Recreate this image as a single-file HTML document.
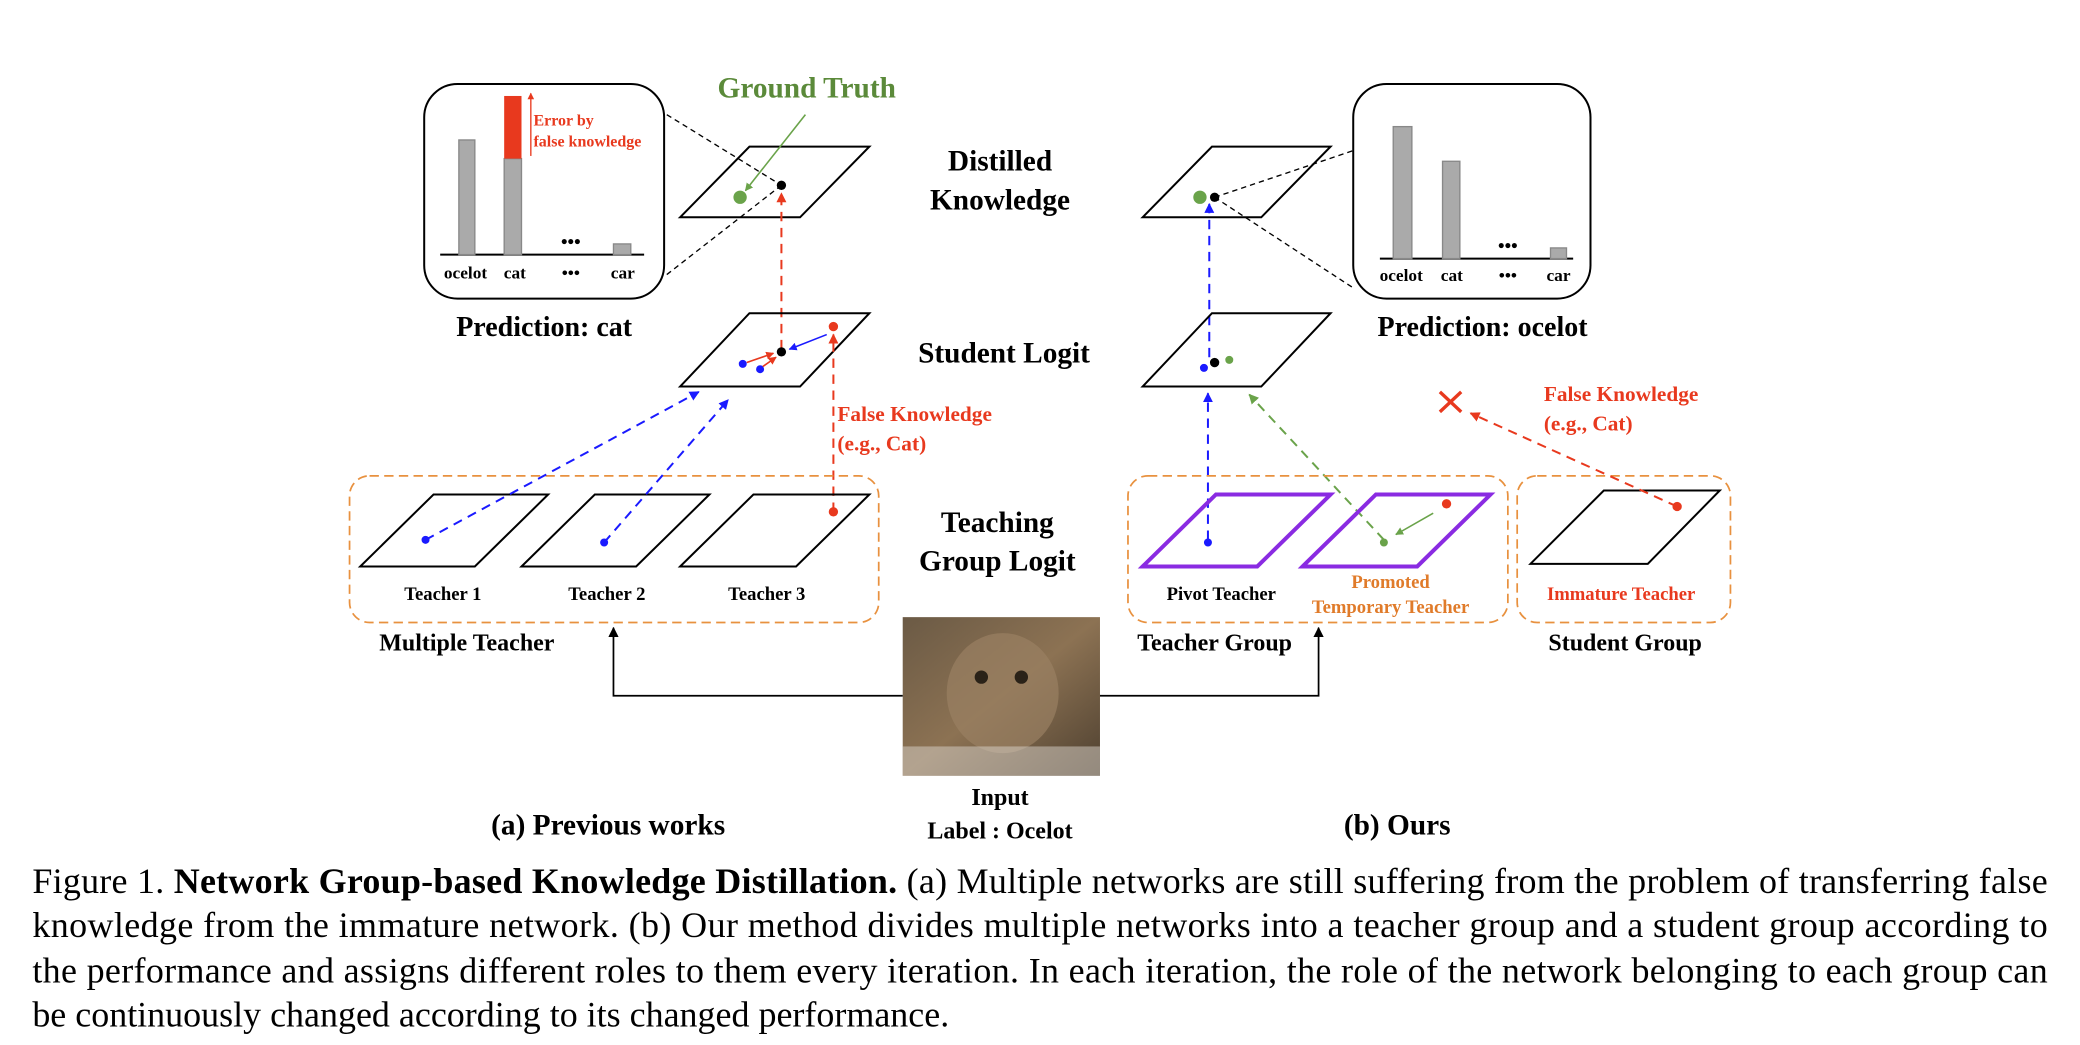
<!DOCTYPE html>
<html><head><meta charset="utf-8"><style>
html,body{margin:0;padding:0;background:#fff;}
svg{display:block;}
text{font-family:"Liberation Serif",serif;}
.b{font-weight:bold;}
</style></head><body>
<svg width="2080" height="1045" viewBox="0 0 1560 784" xmlns="http://www.w3.org/2000/svg">
<defs>
<marker id="ab" viewBox="0 0 10 10" refX="9" refY="5" markerWidth="5" markerHeight="5" orient="auto"><path d="M0,0L10,5L0,10z" fill="#1a1aff"/></marker>
<marker id="ar" viewBox="0 0 10 10" refX="9" refY="5" markerWidth="5" markerHeight="5" orient="auto"><path d="M0,0L10,5L0,10z" fill="#e8391e"/></marker>
<marker id="ag" viewBox="0 0 10 10" refX="9" refY="5" markerWidth="5" markerHeight="5" orient="auto"><path d="M0,0L10,5L0,10z" fill="#6aa34a"/></marker>
<marker id="ak" viewBox="0 0 10 10" refX="9" refY="5" markerWidth="6" markerHeight="6" orient="auto"><path d="M0,0L10,5L0,10z" fill="#000"/></marker>
<linearGradient id="cat" x1="0" y1="0" x2="1" y2="1"><stop offset="0" stop-color="#6b5a45"/><stop offset="0.5" stop-color="#8c7253"/><stop offset="1" stop-color="#4e4030"/></linearGradient>
</defs>

<rect x="318" y="63" width="180" height="161" rx="25" fill="none" stroke="#000" stroke-width="1.5"/>
<line x1="330" y1="191" x2="483" y2="191" stroke="#000" stroke-width="1.5"/>
<rect x="344" y="105" width="12" height="86" fill="#aaa" stroke="#888"/>
<rect x="378" y="119" width="13" height="72" fill="#aaa" stroke="#888"/>
<rect x="378" y="72" width="13" height="47" fill="#e8391e"/>
<rect x="460" y="183" width="13" height="8" fill="#aaa" stroke="#888"/>
<text x="428" y="186" font-size="14" text-anchor="middle" class="b">•••</text>
<line x1="398" y1="117" x2="398" y2="70" stroke="#e8391e" stroke-width="1" marker-end="url(#ar)"/>
<text x="400" y="94" font-size="12" fill="#e8391e" class="b">Error by</text>
<text x="400" y="110" font-size="12" fill="#e8391e" class="b">false knowledge</text>
<g font-size="13" class="b" text-anchor="middle"><text x="349" y="209">ocelot</text><text x="386" y="209">cat</text><text x="428" y="209">•••</text><text x="467" y="209">car</text></g>
<text x="408" y="252" font-size="21" class="b" text-anchor="middle">Prediction: cat</text>
<line x1="500" y1="86" x2="586" y2="139" stroke="#000" stroke-dasharray="4,3"/>
<line x1="500" y1="206" x2="586" y2="139" stroke="#000" stroke-dasharray="4,3"/>

<polygon points="510,163 562,110 652,110 600,163" fill="none" stroke="#000" stroke-width="1.5"/>
<text x="605" y="73" font-size="22" class="b" fill="#5b8a3a" text-anchor="middle">Ground Truth</text>
<line x1="604" y1="86" x2="559" y2="143" stroke="#6aa34a" stroke-width="1.2" marker-end="url(#ag)"/>
<circle cx="555" cy="148" r="5" fill="#6aa34a"/>
<circle cx="586" cy="139" r="3.5" fill="#000"/>
<line x1="586" y1="262" x2="586" y2="145" stroke="#e8391e" stroke-width="1.5" stroke-dasharray="7,5" marker-end="url(#ar)"/>

<polygon points="510,290 562,235 652,235 600,290" fill="none" stroke="#000" stroke-width="1.5"/>
<circle cx="586" cy="264" r="3.5" fill="#000"/>
<circle cx="557" cy="273" r="3" fill="#1a1aff"/>
<circle cx="570" cy="277" r="3" fill="#1a1aff"/>
<circle cx="625" cy="245" r="3.5" fill="#e8391e"/>
<line x1="620" y1="251" x2="592" y2="262" stroke="#1a1aff" stroke-width="1.2" marker-end="url(#ab)"/>
<line x1="560" y1="272" x2="580" y2="265" stroke="#e8391e" stroke-width="1.2" marker-end="url(#ar)"/>
<line x1="572" y1="275" x2="582" y2="268" stroke="#e8391e" stroke-width="1.2" marker-end="url(#ar)"/>
<line x1="625" y1="384" x2="625" y2="251" stroke="#e8391e" stroke-width="1.5" stroke-dasharray="7,5" marker-end="url(#ar)"/>
<text x="628" y="316" font-size="16" class="b" fill="#e8391e">False Knowledge</text>
<text x="628" y="338" font-size="16" class="b" fill="#e8391e">(e.g., Cat)</text>

<rect x="262" y="357" width="397" height="110" rx="15" fill="none" stroke="#e8913f" stroke-width="1.3" stroke-dasharray="7,4"/>
<polygon points="270,425 325,371 411,371 356,425" fill="none" stroke="#000" stroke-width="1.5"/>
<polygon points="391,425 446,371 532,371 477,425" fill="none" stroke="#000" stroke-width="1.5"/>
<polygon points="510,425 565,371 652,371 597,425" fill="none" stroke="#000" stroke-width="1.5"/>
<circle cx="319" cy="405" r="3" fill="#1a1aff"/>
<circle cx="453" cy="407" r="3" fill="#1a1aff"/>
<circle cx="625" cy="384" r="3.5" fill="#e8391e"/>
<line x1="319" y1="405" x2="524" y2="294" stroke="#1a1aff" stroke-width="1.5" stroke-dasharray="7,5" marker-end="url(#ab)"/>
<line x1="453" y1="407" x2="546" y2="300" stroke="#1a1aff" stroke-width="1.5" stroke-dasharray="7,5" marker-end="url(#ab)"/>
<g font-size="14" class="b" text-anchor="middle"><text x="332" y="450">Teacher 1</text><text x="455" y="450">Teacher 2</text><text x="575" y="450">Teacher 3</text></g>
<text x="350" y="488" font-size="18" class="b" text-anchor="middle">Multiple Teacher</text>

<g font-size="22" class="b" text-anchor="middle">
<text x="750" y="128">Distilled</text><text x="750" y="157">Knowledge</text>
<text x="753" y="272">Student Logit</text>
<text x="748" y="399">Teaching</text><text x="748" y="428">Group Logit</text>
<text x="456" y="626">(a) Previous works</text><text x="1048" y="626">(b) Ours</text>
</g>

<rect x="677" y="463" width="148" height="119" fill="url(#cat)"/>
<ellipse cx="752" cy="520" rx="42" ry="45" fill="#9a8062" opacity="0.7"/>
<circle cx="736" cy="508" r="5" fill="#2a2218"/><circle cx="766" cy="508" r="5" fill="#2a2218"/>
<rect x="677" y="560" width="148" height="22" fill="#d9d4cc" opacity="0.5"/>
<polyline points="677,522 460,522 460,471" fill="none" stroke="#000" stroke-width="1.3" marker-end="url(#ak)"/>
<polyline points="825,522 989,522 989,471" fill="none" stroke="#000" stroke-width="1.3" marker-end="url(#ak)"/>
<text x="750" y="604" font-size="18" class="b" text-anchor="middle">Input</text>
<text x="750" y="629" font-size="18" class="b" text-anchor="middle">Label : Ocelot</text>

<polygon points="857,163 909,110 998,110 946,163" fill="none" stroke="#000" stroke-width="1.5"/>
<circle cx="900" cy="148" r="5" fill="#6aa34a"/>
<circle cx="911" cy="148" r="3.5" fill="#000"/>
<line x1="911" y1="148" x2="1015" y2="113" stroke="#000" stroke-dasharray="4,3"/>
<line x1="911" y1="148" x2="1015" y2="216" stroke="#000" stroke-dasharray="4,3"/>
<line x1="907" y1="268" x2="907" y2="153" stroke="#1a1aff" stroke-width="1.5" stroke-dasharray="7,5" marker-end="url(#ab)"/>

<rect x="1015" y="63" width="178" height="161" rx="25" fill="none" stroke="#000" stroke-width="1.5"/>
<line x1="1035" y1="194" x2="1180" y2="194" stroke="#000" stroke-width="1.5"/>
<rect x="1045" y="95" width="14" height="99" fill="#aaa" stroke="#888"/>
<rect x="1082" y="121" width="13" height="73" fill="#aaa" stroke="#888"/>
<rect x="1163" y="186" width="12" height="8" fill="#aaa" stroke="#888"/>
<text x="1131" y="189" font-size="14" class="b" text-anchor="middle">•••</text>
<g font-size="13" class="b" text-anchor="middle"><text x="1051" y="211">ocelot</text><text x="1089" y="211">cat</text><text x="1131" y="211">•••</text><text x="1169" y="211">car</text></g>
<text x="1112" y="252" font-size="21" class="b" text-anchor="middle">Prediction: ocelot</text>

<polygon points="857,290 909,235 998,235 946,290" fill="none" stroke="#000" stroke-width="1.5"/>
<circle cx="903" cy="276" r="3" fill="#1a1aff"/>
<circle cx="911" cy="272" r="3.5" fill="#000"/>
<circle cx="922" cy="270" r="3" fill="#6aa34a"/>
<line x1="906" y1="405" x2="906" y2="295" stroke="#1a1aff" stroke-width="1.5" stroke-dasharray="7,5" marker-end="url(#ab)"/>
<line x1="1038" y1="405" x2="937" y2="296" stroke="#6aa34a" stroke-width="1.5" stroke-dasharray="7,5" marker-end="url(#ag)"/>

<rect x="846" y="357" width="285" height="110" rx="15" fill="none" stroke="#e8913f" stroke-width="1.3" stroke-dasharray="7,4"/>
<polygon points="857,425 912,371 998,371 943,425" fill="none" stroke="#8a2be2" stroke-width="3"/>
<polygon points="977,425 1032,371 1118,371 1063,425" fill="none" stroke="#8a2be2" stroke-width="3"/>
<circle cx="906" cy="407" r="3" fill="#1a1aff"/>
<circle cx="1038" cy="407" r="3" fill="#6aa34a"/>
<circle cx="1085" cy="378" r="3.5" fill="#e8391e"/>
<line x1="1075" y1="385" x2="1047" y2="401" stroke="#6aa34a" stroke-width="1.2" marker-end="url(#ag)"/>
<text x="916" y="450" font-size="14" class="b" text-anchor="middle">Pivot Teacher</text>
<text x="1043" y="441" font-size="14" class="b" fill="#e07b2a" text-anchor="middle">Promoted</text>
<text x="1043" y="460" font-size="14" class="b" fill="#e07b2a" text-anchor="middle">Temporary Teacher</text>
<text x="911" y="488" font-size="18" class="b" text-anchor="middle">Teacher Group</text>

<rect x="1138" y="357" width="160" height="110" rx="15" fill="none" stroke="#e8913f" stroke-width="1.3" stroke-dasharray="7,4"/>
<polygon points="1148,423 1203,368 1290,368 1236,423" fill="none" stroke="#000" stroke-width="1.5"/>
<circle cx="1258" cy="380" r="3.5" fill="#e8391e"/>
<text x="1216" y="450" font-size="14" class="b" fill="#e8391e" text-anchor="middle">Immature Teacher</text>
<text x="1219" y="488" font-size="18" class="b" text-anchor="middle">Student Group</text>
<line x1="1258" y1="380" x2="1103" y2="310" stroke="#e8391e" stroke-width="1.5" stroke-dasharray="7,5" marker-end="url(#ar)"/>
<path d="M1080,294 L1096,309 M1096,294 L1080,309" stroke="#e8391e" stroke-width="2.5"/>
<text x="1158" y="301" font-size="16" class="b" fill="#e8391e">False Knowledge</text>
<text x="1158" y="323" font-size="16" class="b" fill="#e8391e">(e.g., Cat)</text>

<g font-size="27">
<text x="24" y="670" textLength="1512" lengthAdjust="spacing">Figure 1. <tspan font-weight="bold">Network Group-based Knowledge Distillation.</tspan> (a) Multiple networks are still suffering from the problem of transferring false</text>
<text x="24" y="703" textLength="1512" lengthAdjust="spacing">knowledge from the immature network. (b) Our method divides multiple networks into a teacher group and a student group according to</text>
<text x="24" y="737" textLength="1512" lengthAdjust="spacing">the performance and assigns different roles to them every iteration. In each iteration, the role of the network belonging to each group can</text>
<text x="24" y="770">be continuously changed according to its changed performance.</text>
</g>
</svg>
</body></html>
